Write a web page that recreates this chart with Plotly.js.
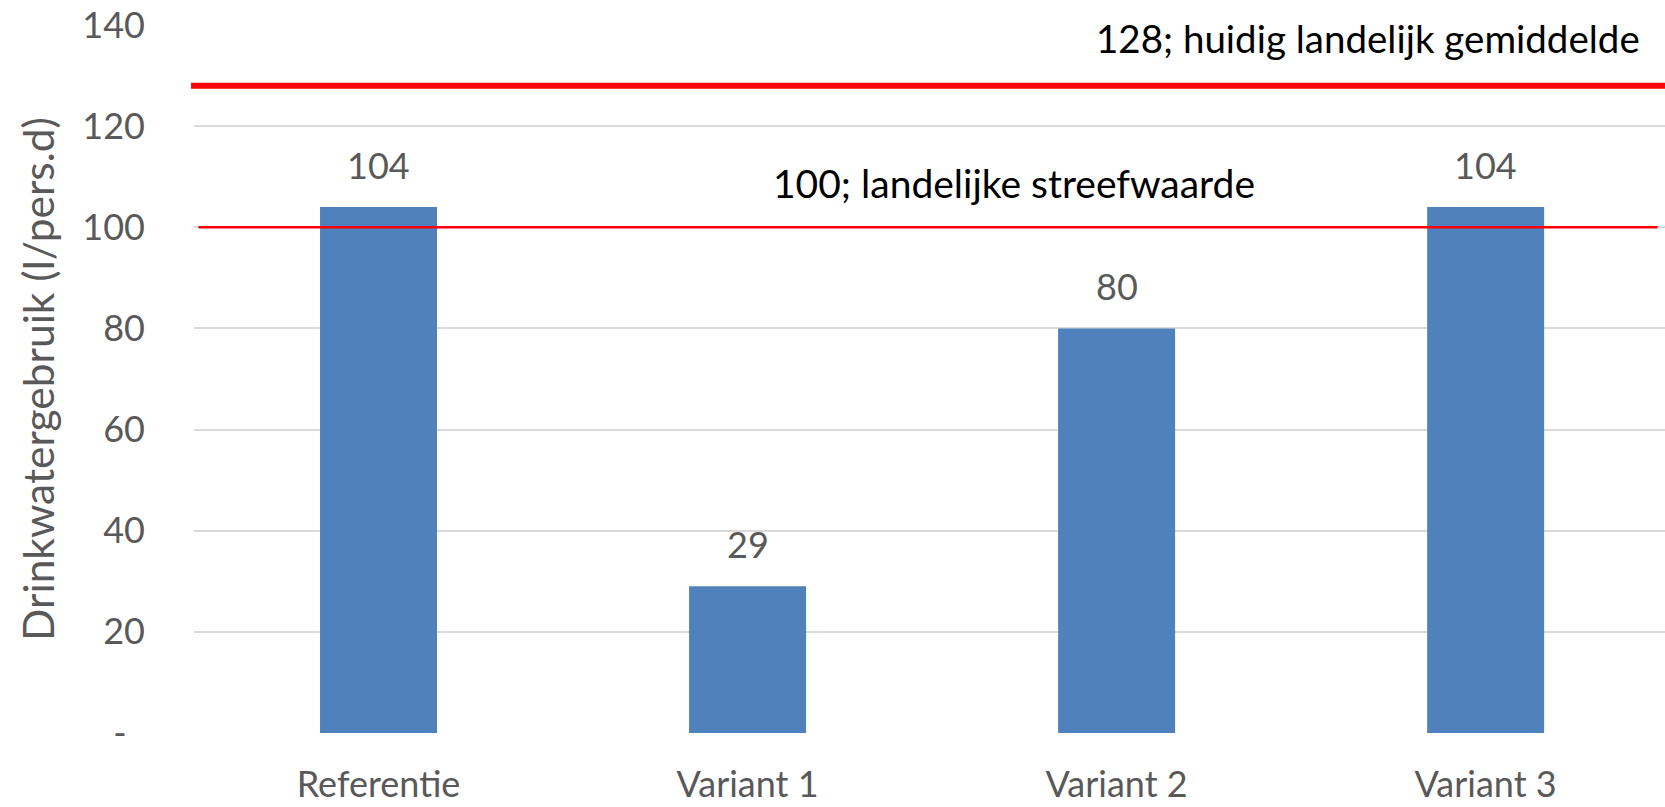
<!DOCTYPE html>
<html>
<head>
<meta charset="utf-8">
<script src="https://cdn.plot.ly/plotly-3.0.1.min.js"></script>
<style>
html,body{margin:0;padding:0;background:#fff;}
#chart{width:1665px;height:807px;}
</style>
</head>
<body>
<div id="chart"></div>
<script>
// Data
var categories = ["Referentie", "Variant 1", "Variant 2", "Variant 3"];
var values = [104, 29, 80, 104];
var valueLabels = ["104", "29", "80", "104"];
var refLineValues = [128, 100];
var refLineLabels = ["128; huidig landelijk gemiddelde", "100; landelijke streefwaarde"];
var yTickVals = [0, 20, 40, 60, 80, 100, 120, 140];
var yTickText = ["-\u00a0\u00a0", "20", "40", "60", "80", "100", "120", "140"];

var FONT = "Lato, 'Open Sans', sans-serif";
var GREY = "#595959";

var trace = {
  type: "bar",
  x: categories,
  y: values,
  width: 0.317,
  marker: {color: "#4F81BD", line: {width: 0}},
  hoverinfo: "x+y"
};

var annotations = [];
for (var i = 0; i < categories.length; i++) {
  annotations.push({
    x: categories[i], y: values[i], xref: "x", yref: "y",
    text: valueLabels[i], showarrow: false,
    yanchor: "middle", yshift: 42,
    font: {family: FONT, size: 36, color: GREY}
  });
}
annotations.push({
  x: 0.798, xref: "paper", y: refLineValues[0], yref: "y",
  text: refLineLabels[0], showarrow: false, xanchor: "center", yanchor: "middle",
  yshift: 48, font: {family: FONT, size: 38.5, color: "#000000"}
});
annotations.push({
  x: 0.5575, xref: "paper", y: refLineValues[1], yref: "y",
  text: refLineLabels[1], showarrow: false, xanchor: "center", yanchor: "middle",
  yshift: 44, font: {family: FONT, size: 39, color: "#000000"}
});

var shapes = [
  {type: "line", xref: "paper", x0: -0.002, x1: 1, yref: "y", y0: refLineValues[0], y1: refLineValues[0],
   line: {color: "#FF0000", width: 6}},
  {type: "line", xref: "paper", x0: 0.003, x1: 0.995, yref: "y", y0: refLineValues[1], y1: refLineValues[1],
   line: {color: "#FF0000", width: 2.5}}
];

var layout = {
  width: 1665, height: 807,
  margin: {l: 194, r: 0, t: 25, b: 74, pad: 0},
  paper_bgcolor: "#ffffff", plot_bgcolor: "#ffffff",
  showlegend: false,
  font: {family: FONT, color: GREY},
  xaxis: {
    type: "category",
    range: [-0.5, 3.486],
    showgrid: false, zeroline: false, showline: false,
    ticks: "", ticklabelstandoff: 27,
    tickfont: {family: FONT, size: 36, color: GREY},
    fixedrange: true
  },
  yaxis: {
    range: [0, 140],
    tickvals: yTickVals, ticktext: yTickText,
    showgrid: true, gridcolor: "#D9D9D9", gridwidth: 2,
    zeroline: false, showline: false,
    ticks: "", ticklabelstandoff: 48,
    tickfont: {family: FONT, size: 36, color: GREY},
    title: {text: "Drinkwatergebruik (l/pers.d)", font: {family: FONT, size: 42.5, color: GREY}, standoff: 14},
    automargin: false,
    fixedrange: true
  },
  shapes: shapes,
  annotations: annotations
};

Plotly.newPlot("chart", [trace], layout, {displayModeBar: false, staticPlot: true});
</script>
</body>
</html>
